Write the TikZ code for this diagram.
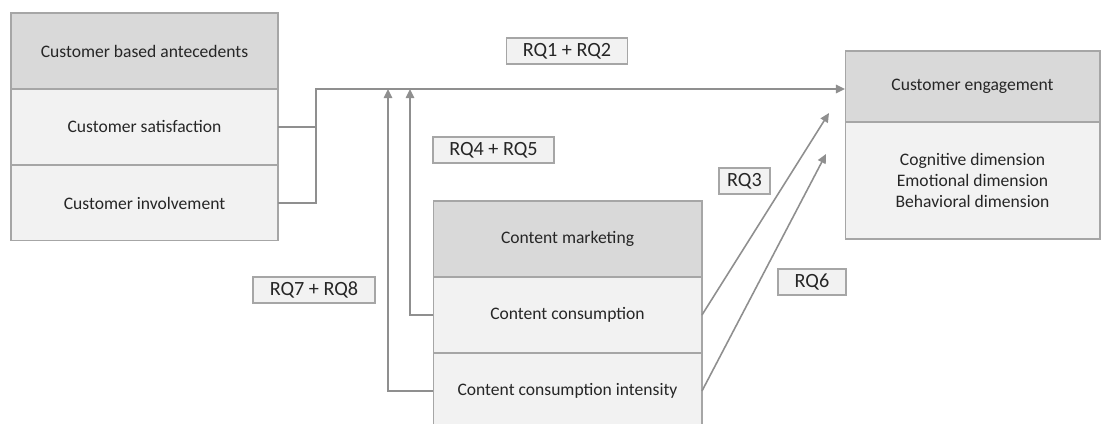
\documentclass[tikz,border=0pt]{standalone}
\usepackage{fontspec}
\setmainfont{Carlito}
\usetikzlibrary{
  arrows.meta,
  positioning
}
\definecolor{headgray}{HTML}{D9D9D9}
\definecolor{rowgray}{HTML}{F2F2F2}
\definecolor{edgegray}{HTML}{A6A6A6}
\definecolor{linegray}{HTML}{8F8F8F}
\definecolor{textgray}{HTML}{262626}
\tikzset{
  headblock/.style={
    rectangle, draw=edgegray, fill=headgray, line width=0.6pt,
    outer sep=0pt, align=center, text=textgray,
    font=\fontsize{10}{12}\selectfont
  },
  rowblock/.style={
    headblock, fill=rowgray
  },
  rqbox/.style={
    rectangle, draw=edgegray, fill=rowgray, line width=0.6pt,
    minimum height=0.52cm, inner xsep=0pt, inner ysep=0pt,
    text=textgray, font=\fontsize{11.5}{13}\selectfont
  },
  link/.style={draw=linegray, line width=0.9pt},
  arrow/.style={link, -{Triangle[length=5.2pt,width=4.8pt]}}
}

\begin{document}
\begin{tikzpicture}[x=0.02cm, y=-0.02cm]
\clip (0,0) rectangle (1102,423);

% ── Customer based antecedents ──────────────────────────────────────────────
\node[headblock, minimum width=5.34cm, minimum height=1.52cm] (antHead) at (144.5,51)
  {Customer based antecedents};
\node[rowblock, minimum width=5.34cm, minimum height=1.52cm, below=0pt of antHead] (satis)
  {Customer satisfaction};
\node[rowblock, minimum width=5.34cm, minimum height=1.52cm, below=0pt of satis] (involv)
  {Customer involvement};

% ── Customer engagement ─────────────────────────────────────────────────────
\node[headblock, minimum width=5.1cm, minimum height=1.42cm] (engHead) at (972.5,86.5)
  {Customer engagement};
\node[rowblock, minimum width=5.1cm, minimum height=2.34cm, below=0pt of engHead] (engBody)
  {Cognitive dimension\\Emotional dimension\\Behavioral dimension};

% ── Content marketing ───────────────────────────────────────────────────────
\node[headblock, minimum width=5.38cm, minimum height=1.52cm] (cmHead) at (567.5,239)
  {Content marketing};
\node[rowblock, minimum width=5.38cm, minimum height=1.52cm, below=0pt of cmHead] (consum)
  {Content consumption};
\node[rowblock, minimum width=5.38cm, minimum height=1.52cm, below=0pt of consum] (intens)
  {Content consumption intensity};

% ── Connectors ──────────────────────────────────────────────────────────────
\coordinate (split) at (316,89);
\coordinate (tipA) at (388,89);
\coordinate (tipB) at (410,89);
\coordinate (tipC) at (829,113);
\coordinate (tipD) at (826,154);

\draw[link] (satis.east) -- (satis.east -| split);
\draw[arrow] (involv.east) -| (split) -- (split -| engHead.west);
\draw[arrow] (consum.west) -| (tipB);
\draw[arrow] (intens.west) -| (tipA);
\draw[arrow] (consum.east) -- (tipC);
\draw[arrow] (intens.east) -- (tipD);

% ── Research question labels ────────────────────────────────────────────────
\node[rqbox, minimum width=2.42cm] (rq12) at (567,51) {RQ1 + RQ2};
\node[rqbox, minimum width=2.42cm] (rq45) at (493.5,150) {RQ4 + RQ5};
\node[rqbox, minimum width=1.02cm] (rq3) at (744.5,181) {RQ3};
\node[rqbox, minimum width=1.36cm] (rq6) at (812,282) {RQ6};
\node[rqbox, minimum width=2.44cm] (rq78) at (314,290) {RQ7 + RQ8};

\end{tikzpicture}
\end{document}
